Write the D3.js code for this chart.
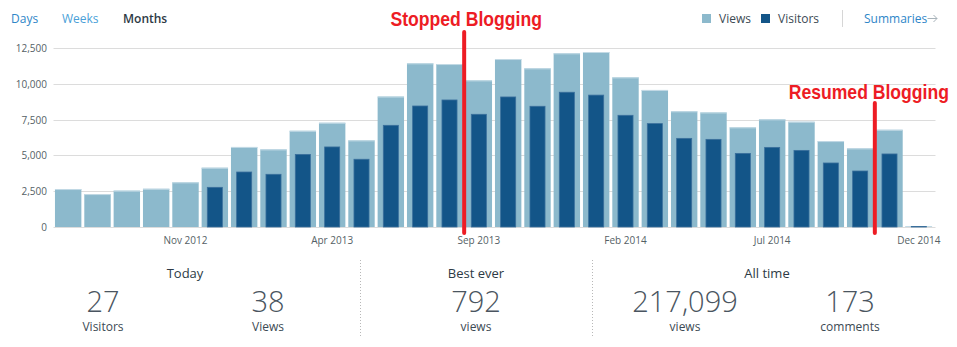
<!DOCTYPE html>
<html>
<head>
<meta charset="utf-8">
<script src="https://cdn.jsdelivr.net/npm/d3@7/dist/d3.min.js"></script>
<style>
  body { margin: 0; background: #fff; }
  svg { display: block; font-family: "Open Sans", sans-serif; }
  .tick-label { font-size: 10px; fill: #555f66; }
  .red-note { font-family: "Liberation Sans", Arial, sans-serif; font-weight: bold; font-size: 20px; fill: #ed1c24; }
</style>
</head>
<body>
<svg id="chart" width="957" height="347"></svg>
<script>
const months = [
  'Jul 2012', 'Aug 2012', 'Sep 2012', 'Oct 2012', 'Nov 2012', 'Dec 2012',
  'Jan 2013', 'Feb 2013', 'Mar 2013', 'Apr 2013', 'May 2013', 'Jun 2013',
  'Jul 2013', 'Aug 2013', 'Sep 2013', 'Oct 2013', 'Nov 2013', 'Dec 2013',
  'Jan 2014', 'Feb 2014', 'Mar 2014', 'Apr 2014', 'May 2014', 'Jun 2014',
  'Jul 2014', 'Aug 2014', 'Sep 2014', 'Oct 2014', 'Nov 2014', 'Dec 2014'
];
const views = [
  2650, 2300, 2540, 2670, 3120, 4140, 5590, 5420, 6720, 7280, 6050, 9110,
  11430, 11380, 10240, 11730, 11080, 12130, 12220, 10450, 9570, 8080, 8000, 6960,
  7520, 7350, 6000, 5490, 6790, 70
];
const visitors = [
  0, 0, 0, 0, 0, 2770, 3840, 3680, 5070, 5590, 4730, 7100,
  8450, 8870, 7870, 9080, 8430, 9410, 9210, 7800, 7220, 6190, 6120, 5140,
  5560, 5350, 4470, 3910, 5100, 40
];
const xTickLabels = ['Nov 2012', 'Apr 2013', 'Sep 2013', 'Feb 2014', 'Jul 2014', 'Dec 2014'];
const yTicks = [0, 2500, 5000, 7500, 10000, 12500];

// red notes drawn over the chart: line sits just before the given month
const notes = [
  { month: 'Sep 2013', label: 'Stopped Blogging' },
  { month: 'Nov 2014', label: 'Resumed Blogging' }
];

const tabs = ['Days', 'Weeks', 'Months'];
const statGroups = [
  { title: 'Today', items: [{ value: '27', label: 'Visitors' }, { value: '38', label: 'Views' }] },
  { title: 'Best ever', items: [{ value: '792', label: 'views' }] },
  { title: 'All time', items: [{ value: '217,099', label: 'views' }, { value: '173', label: 'comments' }] }
];

const data = months.map((m, i) => ({ month: m, views: views[i], visitors: visitors[i] }));

const svg = d3.select('#chart');
const plotLeft = 53.5;
const plotRight = 933.5;
const gridRight = 935.5;
const plotTop = 48;
const plotBottom = 227;

const xscale = d3.scaleBand()
  .domain(months)
  .range([plotLeft, plotRight])
  .paddingInner(0.1)
  .paddingOuter(0.05);

const yscale = d3.scaleLinear()
  .domain([0, 12500])
  .range([plotBottom, plotTop]);

// grid
svg.append('g')
  .selectAll('line')
  .data(yTicks)
  .enter()
  .append('line')
  .attr('x1', plotLeft)
  .attr('x2', gridRight)
  .attr('y1', (d) => Math.round(yscale(d)) + 0.5)
  .attr('y2', (d) => Math.round(yscale(d)) + 0.5)
  .attr('stroke', '#dcdcdc');

svg.append('g')
  .selectAll('text')
  .data(yTicks)
  .enter()
  .append('text')
  .attr('class', 'tick-label')
  .attr('x', 47)
  .attr('y', (d) => yscale(d) + 4)
  .attr('text-anchor', 'end')
  .text((d) => d3.format(',')(d));

// bars
const visW = xscale.bandwidth() * 0.57;

svg.append('g')
  .selectAll('rect')
  .data(data)
  .enter()
  .append('rect')
  .attr('x', (d) => xscale(d.month))
  .attr('y', (d) => yscale(d.views))
  .attr('width', xscale.bandwidth())
  .attr('height', (d) => plotBottom - yscale(d.views))
  .attr('fill', '#8cb9cc');

// light top edge on view bars
svg.append('g')
  .selectAll('rect')
  .data(data)
  .enter()
  .append('rect')
  .attr('x', (d) => xscale(d.month))
  .attr('y', (d) => yscale(d.views))
  .attr('width', xscale.bandwidth())
  .attr('height', 1)
  .attr('fill', '#c3dae5');

svg.append('g')
  .selectAll('rect')
  .data(data.filter((d) => d.visitors > 0))
  .enter()
  .append('rect')
  .attr('x', (d) => xscale(d.month) + (xscale.bandwidth() - visW) / 2)
  .attr('y', (d) => yscale(d.visitors))
  .attr('width', visW)
  .attr('height', (d) => plotBottom - yscale(d.visitors))
  .attr('fill', '#135588')
  .attr('stroke', '#3a6f9c')
  .attr('stroke-width', 0.8);

// x labels
svg.append('g')
  .selectAll('text')
  .data(xTickLabels)
  .enter()
  .append('text')
  .attr('class', 'tick-label')
  .attr('x', (d) => xscale(d) + xscale.bandwidth() / 2)
  .attr('y', 244)
  .attr('text-anchor', 'middle')
  .text((d) => d);

// tabs
const tabX = [11, 62, 123];
svg.append('g')
  .selectAll('text')
  .data(tabs)
  .enter()
  .append('text')
  .attr('x', (d, i) => tabX[i])
  .attr('y', 23)
  .attr('font-size', 12)
  .attr('font-weight', (d) => d === 'Months' ? 600 : 400)
  .attr('fill', (d) => d === 'Months' ? '#2d3a45' : (d === 'Days' ? '#2e86c8' : '#4a9fd8'))
  .text((d) => d);

// legend
const color = d3.scaleOrdinal().domain(['Views', 'Visitors']).range(['#8cb9cc', '#135588']);
const legendX = [702, 761];
const legend = svg.append('g');
legend.selectAll('rect')
  .data(color.domain())
  .enter()
  .append('rect')
  .attr('x', (d, i) => legendX[i])
  .attr('y', 14)
  .attr('width', 9)
  .attr('height', 9)
  .attr('fill', (d) => color(d));
legend.selectAll('text')
  .data(color.domain())
  .enter()
  .append('text')
  .attr('x', (d, i) => legendX[i] + 17)
  .attr('y', 23)
  .attr('font-size', 12)
  .attr('fill', '#3c4a54')
  .text((d) => d);

svg.append('line')
  .attr('x1', 842.5).attr('x2', 842.5)
  .attr('y1', 10).attr('y2', 27)
  .attr('stroke', '#d6d6d6');

svg.append('text')
  .attr('x', 864)
  .attr('y', 23)
  .attr('font-size', 12)
  .attr('fill', '#2e86c8')
  .text('Summaries');
svg.append('path')
  .attr('d', 'M927.5,18.5 H937 M933.5,15 L937,18.5 L933.5,22')
  .attr('fill', 'none')
  .attr('stroke', '#a8b3ba')
  .attr('stroke-width', 1);

// notes (condensed look via horizontal squeeze)
const gap = xscale.step() * xscale.paddingInner();
const noteTop = [32, 103];
const noteTextY = [26, 99];
const noteShift = [2, -6];
const squeeze = 0.88;
notes.forEach((n, i) => {
  const x = xscale(n.month) - gap / 2;
  svg.append('line')
    .attr('x1', x).attr('x2', x)
    .attr('y1', noteTop[i]).attr('y2', 233)
    .attr('stroke', '#ed1c24')
    .attr('stroke-width', 4)
    .attr('stroke-linecap', 'round');
  svg.append('text')
    .attr('class', 'red-note')
    .attr('transform', `translate(${x + noteShift[i]}, ${noteTextY[i]}) scale(${squeeze}, 1)`)
    .attr('text-anchor', 'middle')
    .text(n.label);
});

// stats row
const groupCenters = [185, 476, 767];
const itemCenters = [[103, 268], [476], [685, 850]];
statGroups.forEach((g, gi) => {
  svg.append('text')
    .attr('x', groupCenters[gi])
    .attr('y', 278)
    .attr('text-anchor', 'middle')
    .attr('font-size', 13)
    .attr('fill', '#2d3a45')
    .text(g.title);
  g.items.forEach((it, ii) => {
    svg.append('text')
      .attr('x', itemCenters[gi][ii])
      .attr('y', 311.5)
      .attr('text-anchor', 'middle')
      .attr('font-size', 29)
      .attr('font-weight', 300)
      .attr('fill', '#4a5560')
      .text(it.value);
    svg.append('text')
      .attr('x', itemCenters[gi][ii])
      .attr('y', 331)
      .attr('text-anchor', 'middle')
      .attr('font-size', 12)
      .attr('fill', '#3c4a54')
      .text(it.label);
  });
});

[360.5, 592.5].forEach((x) => {
  svg.append('line')
    .attr('x1', x).attr('x2', x)
    .attr('y1', 260).attr('y2', 337)
    .attr('stroke', '#b8b8b8')
    .attr('stroke-dasharray', '1,2');
});
</script>
</body>
</html>
